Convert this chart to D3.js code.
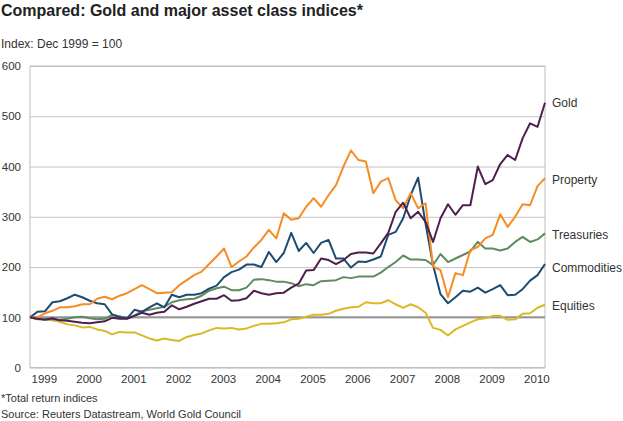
<!DOCTYPE html>
<html>
<head>
<meta charset="utf-8">
<script src="https://cdnjs.cloudflare.com/ajax/libs/d3/7.8.5/d3.min.js"></script>
<style>
  body { margin: 0; background: #fff; }
  svg { display: block; font-family: "Liberation Sans", Arial, sans-serif; }
</style>
</head>
<body>
<svg id="chart" width="623" height="421"></svg>
<script>
// two-monthly points starting Jan 1999 (as labelled on the axis)
let startYear = 1999;
let stepYears = 1 / 6;

let gold = [
  100, 97, 95, 98, 94, 93, 91, 89, 88, 90, 92, 99,
  97, 97, 103, 109, 105, 109, 111, 124, 116, 121, 127, 132,
  137, 137, 144, 133, 134, 138, 153, 148, 145, 148, 149, 159,
  167, 193, 194, 217, 214, 206, 214, 226, 229, 229, 227, 247,
  268, 310, 328, 297, 310, 290, 250, 297, 325, 304, 323, 323,
  400, 365, 373, 405, 423, 413, 456, 486, 479, 527
];

let property = [
  100, 100, 108, 113, 120, 120, 122, 126, 126, 137, 141, 136,
  143, 148, 156, 164, 156, 148, 149, 150, 164, 174, 184, 191,
  206, 221, 237, 200, 211, 221, 239, 254, 274, 257, 307, 294,
  297, 320, 337, 320, 343, 363, 400, 432, 413, 410, 347, 370,
  377, 333, 317, 347, 317, 327, 201, 194, 140, 188, 184, 234,
  240, 257, 264, 305, 280, 300, 325, 323, 361, 377
];

let treasuries = [
  100, 96, 96, 96, 95, 97, 100, 101, 98, 96, 97, 105,
  102, 98, 104, 112, 115, 118, 121, 130, 134, 136, 137, 143,
  153, 158, 161, 154, 154, 159, 175, 176, 174, 171, 171, 168,
  162, 166, 164, 172, 173, 174, 180, 178, 181, 181, 181, 189,
  200, 210, 223, 215, 215, 214, 204, 226, 210, 217, 224, 231,
  250, 237, 237, 233, 237, 250, 260, 250, 255, 267
];

let commodities = [
  100, 111, 112, 130, 132, 138, 145, 140, 133, 128, 126, 106,
  100, 98, 115, 111, 120, 128, 120, 145, 140, 145, 145, 148,
  157, 163, 180, 190, 195, 205, 205, 200, 230, 210, 228, 268,
  232, 248, 228, 248, 254, 217, 217, 199, 211, 210, 215, 221,
  264, 270, 297, 343, 378, 286, 204, 146, 128, 140, 153, 151,
  159, 149, 156, 164, 144, 145, 156, 173, 184, 206
];

let equities = [
  100, 97, 96, 94, 91, 86, 84, 80, 81, 76, 73, 66,
  71, 70, 70, 64, 58, 54, 58, 55, 53, 61, 65, 68,
  74, 79, 78, 79, 76, 78, 83, 87, 87, 88, 90, 96,
  97, 101, 105, 105, 107, 113, 117, 120, 121, 130, 128, 128,
  134, 126, 119, 126, 120, 109, 79, 75, 64, 76, 83, 90,
  96, 98, 103, 103, 95, 96, 107, 108, 119, 125
];

let seriesNames = ['Gold', 'Property', 'Treasuries', 'Commodities', 'Equities'];
let seriesValues = [gold, property, treasuries, commodities, equities];
let seriesColors = ['#4e1f4e', '#f68d24', '#5f8b5f', '#1d4c70', '#dcb826'];
// where the name sits next to the line end (index value)
let labelAt = [526, 374, 264, 199, 123];

let yTicks = [0, 100, 200, 300, 400, 500, 600];
let yearLabels = [1999, 2000, 2001, 2002, 2003, 2004, 2005, 2006, 2007, 2008, 2009, 2010];

let svg = d3.select('#chart');

let plot = { left: 30, right: 545, top: 66, bottom: 367.6 };

let x = d3.scaleLinear()
  .domain([1999, 2010.5])
  .range([plot.left, plot.right]);

let y = d3.scaleLinear()
  .domain([0, 600])
  .range([plot.bottom, plot.top]);

// title + subtitle
svg.append('text')
  .attr('x', 1)
  .attr('y', 16)
  .style('font-size', '16px')
  .style('font-weight', 'bold')
  .style('fill', '#222')
  .text('Compared: Gold and major asset class indices*');

svg.append('text')
  .attr('x', 1)
  .attr('y', 48)
  .style('font-size', '12px')
  .style('fill', '#333')
  .text('Index: Dec 1999 = 100');

// gridlines
let yAxis = d3.axisLeft(y)
  .tickValues(yTicks)
  .tickSize(-(plot.right - plot.left))
  .tickFormat(d3.format('d'));

let yG = svg.append('g')
  .attr('transform', 'translate(' + plot.left + ',0)')
  .call(yAxis);

yG.select('.domain').remove();
yG.selectAll('.tick line')
  .attr('stroke', '#c4c4c4')
  .attr('stroke-width', 1);
yG.selectAll('.tick text')
  .attr('x', -9)
  .style('font-size', '11.5px')
  .style('fill', '#333')
  .style('font-family', '"Liberation Sans", Arial, sans-serif');

// plot frame
svg.append('rect')
  .attr('x', plot.left)
  .attr('y', plot.top)
  .attr('width', plot.right - plot.left)
  .attr('height', plot.bottom - plot.top)
  .attr('fill', 'none')
  .attr('stroke', '#bdbdbd')
  .attr('stroke-width', 1);

// baseline at 100
svg.append('line')
  .attr('x1', plot.left)
  .attr('x2', plot.right)
  .attr('y1', y(100))
  .attr('y2', y(100))
  .attr('stroke', '#949494')
  .attr('stroke-width', 2);

// x labels, left aligned at start of year
let xAxis = d3.axisBottom(x)
  .tickValues(yearLabels)
  .tickSize(0)
  .tickFormat(d3.format('d'));

let xG = svg.append('g')
  .attr('transform', 'translate(0,' + plot.bottom + ')')
  .call(xAxis);

xG.select('.domain').remove();
xG.selectAll('.tick text')
  .attr('text-anchor', 'start')
  .attr('x', 1)
  .attr('dy', '1.05em')
  .style('font-size', '11.5px')
  .style('fill', '#333')
  .style('font-family', '"Liberation Sans", Arial, sans-serif');

// lines
let line = d3.line()
  .x((d, i) => x(startYear + i * stepYears))
  .y(d => y(d));

let drawOrder = [4, 2, 3, 1, 0];
drawOrder.forEach(k => {
  svg.append('path')
    .datum(seriesValues[k])
    .attr('fill', 'none')
    .attr('stroke', seriesColors[k])
    .attr('stroke-width', 2)
    .attr('stroke-linejoin', 'round')
    .attr('d', line);
});

// end labels
seriesNames.forEach((name, k) => {
  svg.append('text')
    .attr('x', 552)
    .attr('y', y(labelAt[k]))
    .attr('dy', '0.35em')
    .style('font-size', '12px')
    .style('fill', '#333')
    .text(name);
});

// footnotes
svg.append('text')
  .attr('x', 1)
  .attr('y', 402)
  .style('font-size', '11px')
  .style('fill', '#333')
  .text('*Total return indices');

svg.append('text')
  .attr('x', 1)
  .attr('y', 418)
  .style('font-size', '11px')
  .style('fill', '#333')
  .text('Source: Reuters Datastream, World Gold Council');
</script>
</body>
</html>
